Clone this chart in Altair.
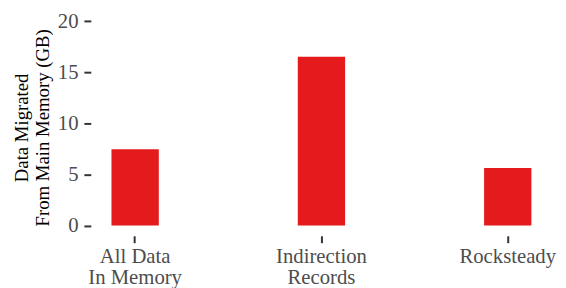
import altair as alt
import pandas as pd

categories = ["All Data\nIn Memory", "Indirection\nRecords", "Rocksteady"]
values = [7.47, 16.53, 5.64]
y_ticks = [0, 5, 10, 15, 20]

df = pd.DataFrame({"cat": categories, "val": values})

FONT = "Liberation Serif"

chart = alt.Chart(df).mark_bar(color="#E41A1C").encode(
    x=alt.X(
        "cat:N",
        sort=categories,
        scale=alt.Scale(paddingInner=0.746, paddingOuter=0.111),
        axis=alt.Axis(
            title=None,
            labelAngle=0,
            labelExpr="split(datum.label, '\\n')",
            labelFont=FONT,
            labelFontSize=21,
            labelColor="#4d4d4d",
            labelLineHeight=21,
            labelPadding=3,
            domain=False,
            ticks=True,
            tickSize=7,
            tickWidth=2,
            tickColor="#333333",
            grid=False,
        ),
    ),
    y=alt.Y(
        "val:Q",
        scale=alt.Scale(domain=[-1, 21], nice=False, zero=False),
        stack=None,
        axis=alt.Axis(
            title=["Data Migrated", "From Main Memory (GB)"],
            titleFont=FONT,
            titleFontSize=19,
            titleFontWeight="normal",
            titleColor="#000000",
            titleLineHeight=21,
            titleBaseline="middle",
            titleAngle=-90,
            titleAlign="center",
            titleX=-70,
            titleY=118,
            values=y_ticks,
            labelFont=FONT,
            labelFontSize=21,
            labelColor="#4d4d4d",
            labelPadding=6,
            domain=False,
            tickSize=7,
            tickWidth=2,
            tickColor="#333333",
            grid=False,
        ),
    ),
    y2=alt.datum(0),
).properties(
    width=468,
    height=228,
    padding={"left": 84, "top": 1, "right": 6, "bottom": 60},
    autosize=alt.AutoSizeParams(type="none"),
).configure(background="white").configure_view(stroke=None)

chart.save("out.html", embed_options={"renderer": "svg", "actions": False})
